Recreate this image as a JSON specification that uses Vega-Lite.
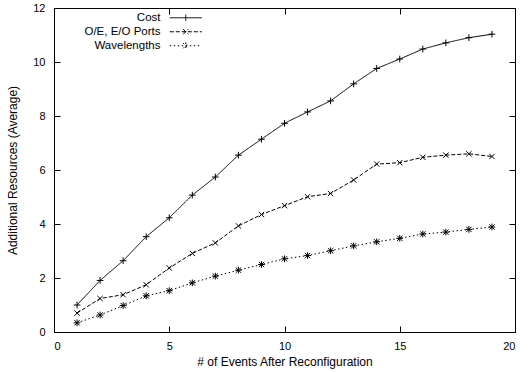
{
  "$schema": "https://vega.github.io/schema/vega-lite/v6.json",
  "width": 461,
  "height": 324,
  "autosize": "none",
  "padding": {"left": 54, "top": 8, "right": 17, "bottom": 40},
  "background": "white",
  "view": {"stroke": "black", "strokeWidth": 1},
  "config": {
    "font": "Liberation Sans",
    "axis": {
      "labelFont": "Liberation Sans",
      "labelFontSize": 11,
      "labelColor": "black",
      "titleFont": "Liberation Sans",
      "titleFontSize": 12,
      "titleFontWeight": "normal",
      "titleColor": "black",
      "domainColor": "black",
      "tickColor": "black",
      "tickSize": -6,
      "grid": false
    },
    "legend": {
      "labelFont": "Liberation Sans",
      "labelFontSize": 11.5,
      "labelColor": "black"
    }
  },
  "data": {
    "values": [
      {"x": 1, "y": 1.0, "s": "Cost"},
      {"x": 2, "y": 1.91, "s": "Cost"},
      {"x": 3, "y": 2.64, "s": "Cost"},
      {"x": 4, "y": 3.53, "s": "Cost"},
      {"x": 5, "y": 4.23, "s": "Cost"},
      {"x": 6, "y": 5.07, "s": "Cost"},
      {"x": 7, "y": 5.74, "s": "Cost"},
      {"x": 8, "y": 6.55, "s": "Cost"},
      {"x": 9, "y": 7.14, "s": "Cost"},
      {"x": 10, "y": 7.73, "s": "Cost"},
      {"x": 11, "y": 8.15, "s": "Cost"},
      {"x": 12, "y": 8.56, "s": "Cost"},
      {"x": 13, "y": 9.19, "s": "Cost"},
      {"x": 14, "y": 9.76, "s": "Cost"},
      {"x": 15, "y": 10.11, "s": "Cost"},
      {"x": 16, "y": 10.48, "s": "Cost"},
      {"x": 17, "y": 10.71, "s": "Cost"},
      {"x": 18, "y": 10.9, "s": "Cost"},
      {"x": 19, "y": 11.03, "s": "Cost"},
      {"x": 1, "y": 0.7, "s": "O/E, E/O Ports"},
      {"x": 2, "y": 1.24, "s": "O/E, E/O Ports"},
      {"x": 3, "y": 1.38, "s": "O/E, E/O Ports"},
      {"x": 4, "y": 1.75, "s": "O/E, E/O Ports"},
      {"x": 5, "y": 2.37, "s": "O/E, E/O Ports"},
      {"x": 6, "y": 2.91, "s": "O/E, E/O Ports"},
      {"x": 7, "y": 3.3, "s": "O/E, E/O Ports"},
      {"x": 8, "y": 3.93, "s": "O/E, E/O Ports"},
      {"x": 9, "y": 4.35, "s": "O/E, E/O Ports"},
      {"x": 10, "y": 4.68, "s": "O/E, E/O Ports"},
      {"x": 11, "y": 5.01, "s": "O/E, E/O Ports"},
      {"x": 12, "y": 5.13, "s": "O/E, E/O Ports"},
      {"x": 13, "y": 5.63, "s": "O/E, E/O Ports"},
      {"x": 14, "y": 6.22, "s": "O/E, E/O Ports"},
      {"x": 15, "y": 6.27, "s": "O/E, E/O Ports"},
      {"x": 16, "y": 6.47, "s": "O/E, E/O Ports"},
      {"x": 17, "y": 6.55, "s": "O/E, E/O Ports"},
      {"x": 18, "y": 6.6, "s": "O/E, E/O Ports"},
      {"x": 19, "y": 6.5, "s": "O/E, E/O Ports"},
      {"x": 1, "y": 0.34, "s": "Wavelengths"},
      {"x": 2, "y": 0.63, "s": "Wavelengths"},
      {"x": 3, "y": 0.98, "s": "Wavelengths"},
      {"x": 4, "y": 1.34, "s": "Wavelengths"},
      {"x": 5, "y": 1.53, "s": "Wavelengths"},
      {"x": 6, "y": 1.82, "s": "Wavelengths"},
      {"x": 7, "y": 2.07, "s": "Wavelengths"},
      {"x": 8, "y": 2.29, "s": "Wavelengths"},
      {"x": 9, "y": 2.5, "s": "Wavelengths"},
      {"x": 10, "y": 2.71, "s": "Wavelengths"},
      {"x": 11, "y": 2.83, "s": "Wavelengths"},
      {"x": 12, "y": 3.01, "s": "Wavelengths"},
      {"x": 13, "y": 3.19, "s": "Wavelengths"},
      {"x": 14, "y": 3.34, "s": "Wavelengths"},
      {"x": 15, "y": 3.47, "s": "Wavelengths"},
      {"x": 16, "y": 3.63, "s": "Wavelengths"},
      {"x": 17, "y": 3.7, "s": "Wavelengths"},
      {"x": 18, "y": 3.8, "s": "Wavelengths"},
      {"x": 19, "y": 3.89, "s": "Wavelengths"}
    ]
  },
  "layer": [
    {
      "mark": {"type": "line", "color": "black", "strokeWidth": 1},
      "encoding": {
        "x": {
          "field": "x", "type": "quantitative",
          "scale": {"domain": [0, 20], "nice": false},
          "axis": {"values": [0, 5, 10, 15, 20], "title": "# of Events After Reconfiguration", "labelPadding": 14, "titlePadding": 5}
        },
        "y": {
          "field": "y", "type": "quantitative",
          "scale": {"domain": [0, 12], "nice": false},
          "axis": {"values": [0, 2, 4, 6, 8, 10, 12], "title": "Additional Resources (Average)", "labelPadding": 15, "titlePadding": 13}
        },
        "strokeDash": {
          "field": "s", "type": "nominal",
          "scale": {"domain": ["Cost", "O/E, E/O Ports", "Wavelengths"], "range": [[1, 0], [4, 2], [1.5, 2.5]]},
          "legend": {
            "title": null,
            "orient": "none",
            "legendX": 126,
            "legendY": 4,
            "padding": 0,
            "symbolType": "stroke",
            "symbolSize": 36,
            "symbolStrokeWidth": 1,
            "symbolStrokeColor": "black",
            "labelAlign": "right",
            "labelOffset": -31,
            "rowPadding": 1,
            "encode": {
              "symbols": {
                "update": {
                  "shape": {"signal": "datum.value === 'Cost' ? 'M-5.33,0L5.33,0M0,-1.1L0,1.1' : datum.value === 'Wavelengths' ? 'M-5.33,0L5.33,0M0,-1.1L0,1.1M-0.85,-0.85L0.85,0.85M-0.85,0.85L0.85,-0.85' : 'M-5.33,0L5.33,0M-0.85,-0.85L0.85,0.85M-0.85,0.85L0.85,-0.85'"}
                }
              }
            }
          }
        }
      }
    },
    {
      "transform": [{"filter": "datum.s === 'Cost'"}],
      "mark": {"type": "point", "filled": false, "color": "black", "strokeWidth": 1, "size": 45, "opacity": 1, "shape": "M-1,0L1,0M0,-1L0,1"},
      "encoding": {
        "x": {"field": "x", "type": "quantitative", "axis": null},
        "y": {"field": "y", "type": "quantitative", "axis": null}
      }
    },
    {
      "transform": [{"filter": "datum.s === 'O/E, E/O Ports'"}],
      "mark": {"type": "point", "filled": false, "color": "black", "strokeWidth": 1, "size": 45, "opacity": 1, "shape": "M-0.8,-0.8L0.8,0.8M-0.8,0.8L0.8,-0.8"},
      "encoding": {
        "x": {"field": "x", "type": "quantitative", "axis": null},
        "y": {"field": "y", "type": "quantitative", "axis": null}
      }
    },
    {
      "transform": [{"filter": "datum.s === 'Wavelengths'"}],
      "mark": {"type": "point", "filled": false, "color": "black", "strokeWidth": 1, "size": 45, "opacity": 1, "shape": "M-1,0L1,0M0,-1L0,1M-0.8,-0.8L0.8,0.8M-0.8,0.8L0.8,-0.8"},
      "encoding": {
        "x": {"field": "x", "type": "quantitative", "axis": null},
        "y": {"field": "y", "type": "quantitative", "axis": null}
      }
    },
    {
      "mark": {"type": "point", "opacity": 0},
      "encoding": {
        "x": {"field": "x", "type": "quantitative", "axis": {"orient": "top", "labels": false, "title": null, "values": [0, 5, 10, 15, 20]}},
        "y": {"field": "y", "type": "quantitative", "axis": {"orient": "right", "labels": false, "title": null, "values": [0, 2, 4, 6, 8, 10, 12]}}
      }
    }
  ],
  "resolve": {"axis": {"x": "independent", "y": "independent"}}
}
